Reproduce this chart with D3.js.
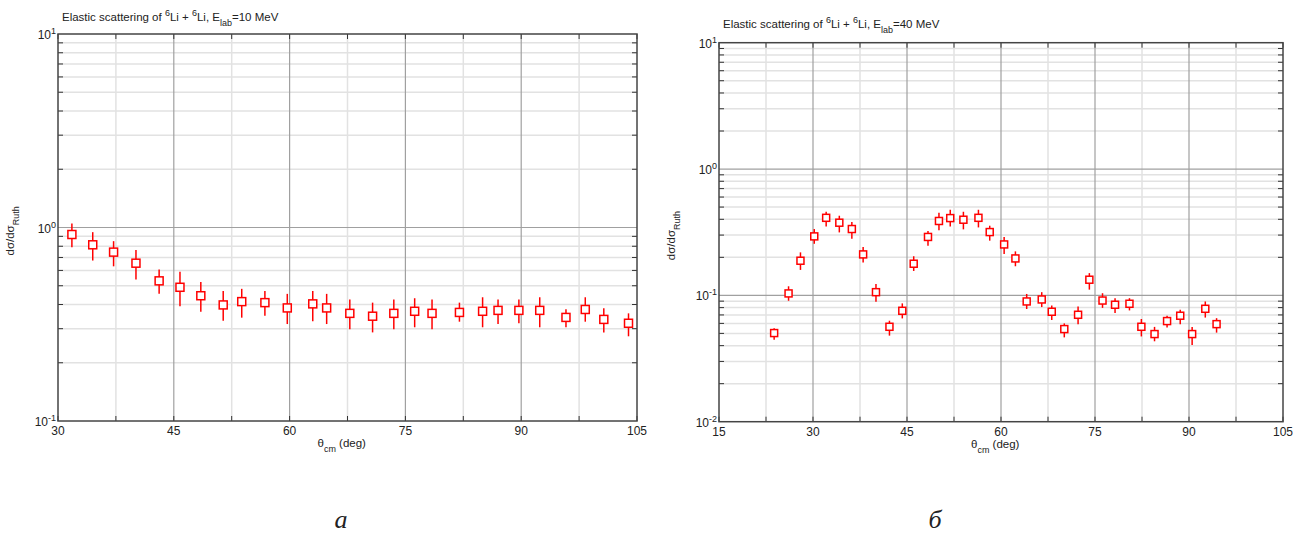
<!DOCTYPE html>
<html>
<head>
<meta charset="utf-8">
<script src="https://cdn.jsdelivr.net/npm/d3@7"></script>
<style>
  body { margin: 0; background: white; }
  text { font-family: "Liberation Sans Narrow", "Liberation Sans", Arial, sans-serif; fill: #222; }
</style>
</head>
<body>
<div id="vizContainer"></div>
<script>
let w = 1309;
let h = 533;

// panel a: E_lab = 10 MeV
let anglesA = [31.8, 34.5, 37.2, 40.1, 43.1, 45.8, 48.5, 51.4, 53.8, 56.8, 59.7, 63.0, 64.8, 67.8,
  70.75, 73.5, 76.2, 78.45, 82.0, 85.0, 87.0, 89.7, 92.4, 95.8, 98.3, 100.7, 103.9];
let ratioA = [0.92, 0.814, 0.746, 0.654, 0.53, 0.491, 0.444, 0.398, 0.414, 0.409, 0.384, 0.403, 0.384, 0.36,
  0.348, 0.36, 0.369, 0.36, 0.364, 0.369, 0.373, 0.373, 0.373, 0.343, 0.377, 0.335, 0.32];
let lowA = [0.79, 0.675, 0.63, 0.538, 0.454, 0.392, 0.367, 0.33, 0.342, 0.35, 0.317, 0.328, 0.317, 0.298,
  0.287, 0.298, 0.305, 0.298, 0.326, 0.305, 0.317, 0.32, 0.305, 0.305, 0.326, 0.287, 0.274];
let highA = [1.05, 0.946, 0.85, 0.766, 0.606, 0.59, 0.523, 0.47, 0.482, 0.47, 0.454, 0.47, 0.454, 0.424,
  0.409, 0.424, 0.431, 0.424, 0.409, 0.436, 0.424, 0.424, 0.436, 0.378, 0.436, 0.383, 0.36];

// panel б: E_lab = 40 MeV
let anglesB = [23.8, 26.1, 28.0, 30.2, 32.1, 34.2, 36.2, 38.0, 40.05, 42.2, 44.25, 46.07, 48.35, 50.1,
  51.9, 54.0, 56.4, 58.2, 60.5, 62.3, 64.1, 66.5, 68.1, 70.1, 72.3, 74.1, 76.2, 78.2, 80.5, 82.4,
  84.5, 86.5, 88.6, 90.5, 92.6, 94.4];
let ratioB = [0.0503, 0.1036, 0.188, 0.293, 0.411, 0.376, 0.335, 0.211, 0.106, 0.0564, 0.0755, 0.178, 0.29, 0.388,
  0.409, 0.397, 0.411, 0.317, 0.253, 0.196, 0.0895, 0.0928, 0.0742, 0.0541, 0.0702, 0.133, 0.091, 0.0843, 0.0858, 0.0564,
  0.0494, 0.0626, 0.069, 0.0494, 0.0783, 0.0592];
let lowB = [0.0446, 0.0906, 0.159, 0.256, 0.351, 0.315, 0.281, 0.182, 0.089, 0.048, 0.0657, 0.156, 0.247, 0.327,
  0.351, 0.333, 0.345, 0.271, 0.213, 0.17, 0.078, 0.0808, 0.0637, 0.0465, 0.0592, 0.111, 0.0796, 0.0726, 0.076, 0.0473,
  0.0433, 0.0558, 0.0592, 0.0405, 0.0667, 0.0507];
let highB = [0.055, 0.118, 0.219, 0.335, 0.459, 0.427, 0.38, 0.241, 0.123, 0.063, 0.0864, 0.204, 0.323, 0.45,
  0.476, 0.459, 0.476, 0.356, 0.29, 0.223, 0.1026, 0.106, 0.0832, 0.06, 0.0817, 0.15, 0.104, 0.095, 0.095, 0.065,
  0.0563, 0.069, 0.077, 0.0563, 0.0895, 0.066];

let xTicksA = [30, 45, 60, 75, 90, 105];
let xTicksB = [15, 30, 45, 60, 75, 90, 105];
let decadesA = [-1, 0, 1];
let decadesB = [-2, -1, 0, 1];

let viz = d3.select("#vizContainer")
  .append("svg")
  .attr("width", w)
  .attr("height", h)
  .style("background-color", "white")
  ;

// writes a text made of normal / sup / sub pieces
function richText(t, parts, size) {
  let shift = 0;
  parts.forEach(p => {
    let target = p[1] == "sup" ? -0.4 * size : (p[1] == "sub" ? 0.45 * size : 0);
    let span = t.append("tspan")
      .attr("dy", target - shift)
      .text(p[0]);
    if (p[1]) span.attr("font-size", size * 0.78);
    shift = target;
  });
}

function drawPanel(p) {
  let g = viz.append("g").attr("class", "panel");

  let xScale = d3.scaleLinear().domain(p.xDomain).range([p.left, p.right]);
  let yScale = d3.scaleLog().domain(p.yDomain).range([p.bottom, p.top]);

  let xGrid = d3.range(p.xDomain[0], p.xDomain[1] + 0.01, 7.5);
  let yMinor = [];
  for (let e = d3.min(p.decades); e < d3.max(p.decades); e++) {
    for (let k = 2; k <= 9; k++) yMinor.push(k * Math.pow(10, e));
  }

  // minor grid
  g.selectAll(".xMinor").data(xGrid.filter(v => v % 15 != 0))
    .enter().append("line")
    .attr("x1", d => xScale(d)).attr("x2", d => xScale(d))
    .attr("y1", p.top).attr("y2", p.bottom)
    .attr("stroke", "#e2e2e2").attr("stroke-width", 1.5);
  g.selectAll(".yMinor").data(yMinor)
    .enter().append("line")
    .attr("x1", p.left).attr("x2", p.right)
    .attr("y1", d => yScale(d)).attr("y2", d => yScale(d))
    .attr("stroke", "#e2e2e2").attr("stroke-width", 1.5);

  // major grid
  g.selectAll(".xMajor").data(xGrid.filter(v => v % 15 == 0 && v != p.xDomain[0] && v != p.xDomain[1]))
    .enter().append("line")
    .attr("x1", d => xScale(d)).attr("x2", d => xScale(d))
    .attr("y1", p.top).attr("y2", p.bottom)
    .attr("stroke", "#a0a0a0").attr("stroke-width", 1.2);
  g.selectAll(".yMajor").data(p.decades.slice(1, -1))
    .enter().append("line")
    .attr("x1", p.left).attr("x2", p.right)
    .attr("y1", d => yScale(Math.pow(10, d))).attr("y2", d => yScale(Math.pow(10, d)))
    .attr("stroke", "#a0a0a0").attr("stroke-width", 1.2);

  // inner ticks
  let tl = 5;
  yMinor.forEach(v => {
    g.append("line").attr("x1", p.left).attr("x2", p.left + tl)
      .attr("y1", yScale(v)).attr("y2", yScale(v)).attr("stroke", "#333");
    g.append("line").attr("x1", p.right).attr("x2", p.right - tl)
      .attr("y1", yScale(v)).attr("y2", yScale(v)).attr("stroke", "#333");
  });
  xGrid.forEach(v => {
    g.append("line").attr("x1", xScale(v)).attr("x2", xScale(v))
      .attr("y1", p.bottom).attr("y2", p.bottom - tl).attr("stroke", "#333");
    g.append("line").attr("x1", xScale(v)).attr("x2", xScale(v))
      .attr("y1", p.top).attr("y2", p.top + tl).attr("stroke", "#333");
  });

  // frame
  g.append("rect")
    .attr("x", p.left).attr("y", p.top)
    .attr("width", p.right - p.left).attr("height", p.bottom - p.top)
    .attr("fill", "none").attr("stroke", "#444").attr("stroke-width", 1.5);

  // x tick labels
  g.selectAll(".xLabel").data(p.xTicks)
    .enter().append("text")
    .attr("x", d => xScale(d)).attr("y", p.bottom + 14)
    .attr("text-anchor", "middle").attr("font-size", 12)
    .text(d => d);

  // y tick labels 10^n
  p.decades.forEach(e => {
    let t = g.append("text")
      .attr("x", p.left - 16).attr("y", yScale(Math.pow(10, e)) + 5)
      .attr("text-anchor", "start").attr("font-size", 12);
    t.append("tspan").text("10");
    t.append("tspan").attr("dy", -5).attr("font-size", 9).text(e);
    t.attr("x", p.left - 2 - t.node().getComputedTextLength());
  });

  // title
  let title = g.append("text")
    .attr("x", p.left + 4).attr("y", p.top - p.titleGap)
    .attr("font-size", 11.5);
  richText(title, [["Elastic scattering of "], ["6", "sup"], ["Li + "], ["6", "sup"], ["Li, E"], ["lab", "sub"], ["=" + p.energy + " MeV"]], 11.5);

  // axis titles
  let xt = g.append("text")
    .attr("x", (p.left + p.right) / 2 - 30).attr("y", p.bottom + 26)
    .attr("font-size", 11.5);
  richText(xt, [["θ"], ["cm", "sub"], [" (deg)"]], 11.5);

  let yt = g.append("text")
    .attr("transform", "translate(" + (p.left - 44) + "," + ((p.top + p.bottom) / 2 + 28) + ") rotate(-90)")
    .attr("font-size", 11.5);
  richText(yt, [["dσ/dσ"], ["Ruth", "sub"]], 11.5);

  // data
  let pts = p.angles.map((a, i) => ({ a: a, v: p.ratio[i], lo: p.low[i], hi: p.high[i] }));
  let datagroups = g.selectAll(".datagroup").data(pts)
    .enter().append("g")
    .attr("class", "datagroup");

  datagroups.append("line")
    .attr("x1", d => xScale(d.a)).attr("x2", d => xScale(d.a))
    .attr("y1", d => yScale(d.lo)).attr("y2", d => yScale(d.hi))
    .attr("stroke", "#f00").attr("stroke-width", 1.5);

  datagroups.append("rect")
    .attr("x", d => xScale(d.a) - p.box / 2)
    .attr("y", d => yScale(d.v) - p.box / 2)
    .attr("width", p.box).attr("height", p.box)
    .attr("fill", "white").attr("stroke", "#f00").attr("stroke-width", 1.5);

  // caption under the panel
  viz.append("text")
    .attr("x", p.capX).attr("y", 528)
    .attr("text-anchor", "middle")
    .attr("font-size", 26)
    .style("font-family", "'Liberation Serif', 'Times New Roman', serif")
    .style("font-style", "italic")
    .text(p.caption);
}

drawPanel({
  left: 58, right: 637, top: 34, bottom: 421,
  xDomain: [30, 105], yDomain: [0.1, 10],
  xTicks: xTicksA, decades: decadesA,
  angles: anglesA, ratio: ratioA, low: lowA, high: highA,
  energy: 10, box: 8, caption: "а", capX: 341, titleGap: 13
});

drawPanel({
  left: 719, right: 1283, top: 42.7, bottom: 421.7,
  xDomain: [15, 105], yDomain: [0.01, 10],
  xTicks: xTicksB, decades: decadesB,
  angles: anglesB, ratio: ratioB, low: lowB, high: highB,
  energy: 40, box: 7, caption: "б", capX: 935, titleGap: 15
});
</script>
</body>
</html>
